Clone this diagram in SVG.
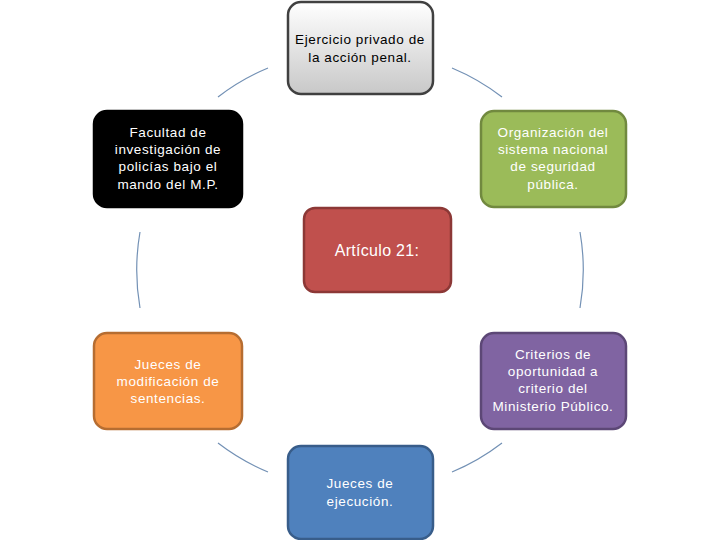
<svg xmlns="http://www.w3.org/2000/svg" width="720" height="540" viewBox="0 0 720 540">
<defs>
<linearGradient id="gray" x1="0" y1="0" x2="0" y2="1">
<stop offset="0" stop-color="#ffffff"/>
<stop offset="1" stop-color="#c8c8c8"/>
</linearGradient>
<style>
.box{stroke-width:2.5}
.t{font-family:"Liberation Sans",Arial,sans-serif;font-size:13.5px;letter-spacing:0.6px;text-anchor:middle;fill:#ffffff}
.dark{fill:#000000}
.c{fill:none;stroke:#7391b5;stroke-width:1.2}
</style>
</defs>
<rect width="720" height="540" fill="#ffffff"/>
<g id="connectors">
<path class="c" d="M218,97 A222,222 0 0 1 268,68"/>
<path class="c" d="M452,68 A222,222 0 0 1 502,97"/>
<path class="c" d="M580,232 A222,222 0 0 1 580,308"/>
<path class="c" d="M502,443 A222,222 0 0 1 452,472"/>
<path class="c" d="M268,472 A222,222 0 0 1 218,443"/>
<path class="c" d="M140,308 A222,222 0 0 1 140,232"/>
</g>
<g id="n-top">
<rect class="box" x="288" y="2" width="145" height="92" rx="13" fill="url(#gray)" stroke="#404040"/>
<text class="t dark" x="360" y="44">Ejercicio privado de</text>
<text class="t dark" x="360" y="62">la acción penal.</text>
</g>
<g id="n-black">
<rect class="box" x="94" y="111" width="148" height="96" rx="13" fill="#000000" stroke="#000000"/>
<text class="t" x="168" y="137">Facultad de</text>
<text class="t" x="168" y="154">investigación de</text>
<text class="t" x="168" y="171">policías bajo el</text>
<text class="t" x="168" y="189">mando del M.P.</text>
</g>
<g id="n-green">
<rect class="box" x="481" y="111" width="145" height="96" rx="13" fill="#9bbb59" stroke="#71893f"/>
<text class="t" x="553" y="137">Organización del</text>
<text class="t" x="553" y="154">sistema nacional</text>
<text class="t" x="553" y="171">de seguridad</text>
<text class="t" x="553" y="189">pública.</text>
</g>
<g id="n-center">
<rect class="box" x="304" y="208" width="147" height="84" rx="11" fill="#c0504d" stroke="#8c3836"/>
<text class="t" x="377" y="256" style="font-size:16px;letter-spacing:0.3px">Artículo 21:</text>
</g>
<g id="n-orange">
<rect class="box" x="94" y="333" width="148" height="96" rx="13" fill="#f79646" stroke="#b66d31"/>
<text class="t" x="168" y="369">Jueces de</text>
<text class="t" x="168" y="386">modificación de</text>
<text class="t" x="168" y="403">sentencias.</text>
</g>
<g id="n-purple">
<rect class="box" x="481" y="333" width="145" height="96" rx="13" fill="#8064a2" stroke="#5c4776"/>
<text class="t" x="553" y="359">Criterios de</text>
<text class="t" x="553" y="376">oportunidad a</text>
<text class="t" x="553" y="393">criterio del</text>
<text class="t" x="553" y="411">Ministerio Público.</text>
</g>
<g id="n-blue">
<rect class="box" x="288" y="446" width="145" height="93" rx="13" fill="#4f81bd" stroke="#385d8a"/>
<text class="t" x="360" y="488">Jueces de</text>
<text class="t" x="360" y="506">ejecución.</text>
</g>
</svg>
